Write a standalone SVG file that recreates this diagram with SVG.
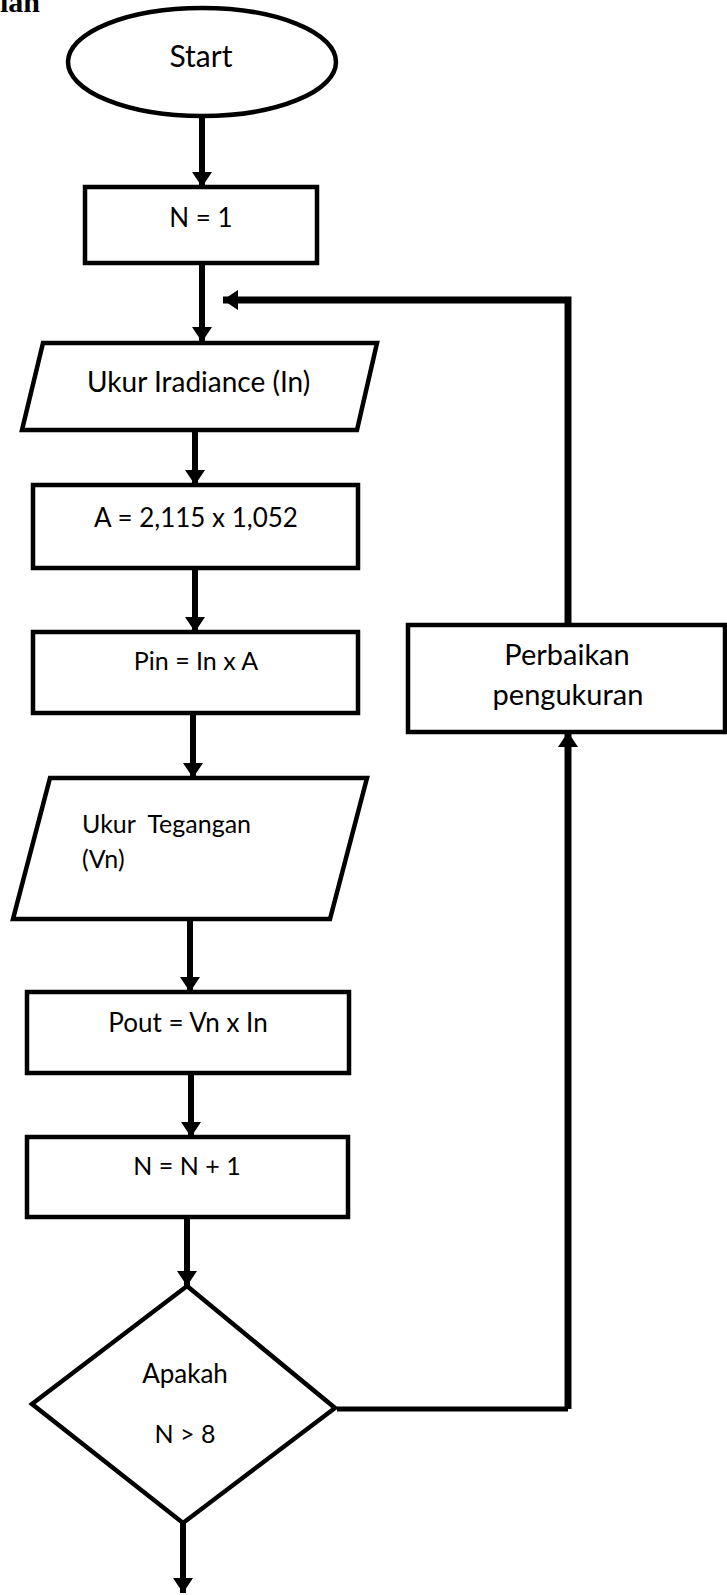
<svg xmlns="http://www.w3.org/2000/svg" width="727" height="1595" viewBox="0 0 727 1595">
<style>
.shape{fill:#fff;stroke:#000;stroke-width:4.5;stroke-linejoin:miter}
.t{font-family:Lato,"Open Sans",sans-serif;fill:#000}
.c{text-anchor:middle}
.con{fill:none;stroke:#000;stroke-width:6}
</style>
<defs>
<marker id="ah" markerUnits="userSpaceOnUse" markerWidth="22" markerHeight="22" viewBox="0 0 22 22" refX="19" refY="11" orient="auto">
<path d="M4,1 L19,11 L4,21 Z" fill="#000"/>
</marker>
</defs>
<rect width="727" height="1595" fill="#fff"/>
<text x="0" y="12" style="font-family:'Liberation Serif',serif;font-weight:bold;font-size:30px">ian</text>

<g id="start">
<ellipse class="shape" cx="202" cy="62" rx="134" ry="54"/>
<text class="t c" x="201" y="67" style="font-size:30px">Start</text>
</g>
<g id="n1">
<rect class="shape" x="85" y="187" width="232" height="76"/>
<text class="t c" x="201" y="227" style="font-size:26px">N = 1</text>
</g>
<g id="ukur-iradiance">
<polygon class="shape" points="43,343 377,343 357,430 22,430"/>
<text class="t" x="87" y="392" style="font-size:28px">Ukur Iradiance (In)</text>
</g>
<g id="luas">
<rect class="shape" x="33" y="485" width="325" height="83"/>
<text class="t c" x="196" y="527" style="font-size:26px">A = 2,115 x 1,052</text>
</g>
<g id="pin">
<rect class="shape" x="33" y="632" width="325" height="81"/>
<text class="t c" x="196" y="670" style="font-size:25px">Pin = In x A</text>
</g>
<g id="ukur-tegangan">
<polygon class="shape" points="50,778 367,778 330,919 13,919"/>
<text class="t" x="82" y="833" xml:space="preserve" style="font-size:25px">Ukur  Tegangan</text>
<text class="t" x="82" y="868" style="font-size:25px">(Vn)</text>
</g>
<g id="pout">
<rect class="shape" x="27" y="992" width="322" height="81"/>
<text class="t c" x="188" y="1032" style="font-size:26px">Pout = Vn x In</text>
</g>
<g id="n-inc">
<rect class="shape" x="27" y="1137" width="321" height="80"/>
<text class="t c" x="187" y="1175" style="font-size:25px">N = N + 1</text>
</g>
<g id="decision">
<polygon class="shape" points="187,1286 335,1408 183,1523 32,1404"/>
<text class="t c" x="185" y="1383" style="font-size:26px">Apakah</text>
<text class="t c" x="185" y="1443" style="font-size:25px">N &gt; 8</text>
</g>
<g id="perbaikan">
<rect class="shape" x="408" y="625" width="317" height="107"/>
<text class="t c" x="567" y="665" style="font-size:29px">Perbaikan</text>
<text class="t c" x="568" y="705" style="font-size:29px">pengukuran</text>
</g>

<g id="connectors">
<line class="con" x1="202" y1="117" x2="202" y2="187" marker-end="url(#ah)"/>
<line class="con" x1="202" y1="263" x2="202" y2="342" marker-end="url(#ah)"/>
<line class="con" x1="195" y1="430" x2="195" y2="485" marker-end="url(#ah)"/>
<line class="con" x1="195" y1="568" x2="195" y2="632" marker-end="url(#ah)"/>
<line class="con" x1="193" y1="713" x2="193" y2="778" marker-end="url(#ah)"/>
<line class="con" x1="190" y1="919" x2="190" y2="992" marker-end="url(#ah)"/>
<line class="con" x1="191" y1="1073" x2="191" y2="1137" marker-end="url(#ah)"/>
<line class="con" x1="187" y1="1217" x2="187" y2="1286" marker-end="url(#ah)"/>
<line class="con" x1="183" y1="1523" x2="183" y2="1593" marker-end="url(#ah)"/>
<path class="con" d="M568,625 V300 H223" style="stroke-width:7px" marker-end="url(#ah)"/>
<path class="con" d="M337,1409 H568" style="stroke-width:5px"/>
<line class="con" x1="568" y1="1409" x2="568" y2="732" style="stroke-width:7px" marker-end="url(#ah)"/>
</g>
</svg>
